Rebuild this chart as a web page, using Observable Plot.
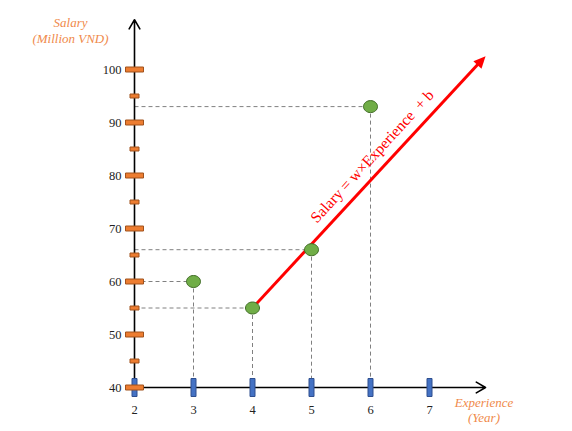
<!DOCTYPE html>
<html>
<head>
<meta charset="utf-8">
<script src="https://cdn.jsdelivr.net/npm/d3@7"></script>
<script src="https://cdn.jsdelivr.net/npm/@observablehq/plot@0.6"></script>
<style>
  html, body { margin: 0; padding: 0; background: #fff; }
</style>
</head>
<body>
<div id="chart"></div>
<script>
// ---- data ----
const years = [2, 3, 4, 5, 6, 7];
const salaryTicks = [40, 45, 50, 55, 60, 65, 70, 75, 80, 85, 90, 95, 100];
const salaryLabels = [40, 50, 60, 70, 80, 90, 100];
const experience = [3, 4, 5, 6];
const salary = [60, 55, 66, 93];
const regX = [4, 7.88];
const regY = [55, 101.7];
const regTipX = [7.95];
const regTipY = [102.5];
const xAxisEnd = 7.95;
const yAxisEnd = 109.4;
const formula = "Salary = w×Experience  + b";

const points = experience.map((x, i) => ({x, y: salary[i]}));

// ---- custom symbols ----
const rectSym = (w, h) => ({draw(c) { c.rect(-w / 2, -h / 2, w, h); }});
function ellipseSym(rx, ry) {
  const k = 0.5523;
  return {draw(c) {
    c.moveTo(rx, 0);
    c.bezierCurveTo(rx, ry * k, rx * k, ry, 0, ry);
    c.bezierCurveTo(-rx * k, ry, -rx, ry * k, -rx, 0);
    c.bezierCurveTo(-rx, -ry * k, -rx * k, -ry, 0, -ry);
    c.bezierCurveTo(rx * k, -ry, rx, -ry * k, rx, 0);
    c.closePath();
  }};
}
function arrowHeadSym(len, half, angleDeg) {
  const a = angleDeg * Math.PI / 180;
  const dx = Math.sin(a), dy = -Math.cos(a);   // direction of tip
  const px = -dy, py = dx;                      // perpendicular
  return {draw(c) {
    c.moveTo(0, 0);
    c.lineTo(-dx * len + px * half, -dy * len + py * half);
    c.lineTo(-dx * len - px * half, -dy * len - py * half);
    c.closePath();
  }};
}

const orange = "#ED7D31", orangeEdge = "#A0521C";
const blue = "#4472C4", blueEdge = "#2F4F8F";
const green = "#70AD47", greenEdge = "#3F6B25";
const titleColor = "#F08A4B";

const chart = Plot.plot({
  width: 572,
  height: 431,
  marginLeft: 134,
  marginRight: 143,
  marginTop: 69,
  marginBottom: 44,
  x: {domain: [2, 7], axis: null},
  y: {domain: [40, 100], axis: null},
  style: {fontFamily: "'Liberation Serif', 'Times New Roman', serif", fontSize: "12px", background: "#fff", overflow: "visible"},
  marks: [
    // dashed guides
    Plot.link(points, {x1: 2, x2: "x", y1: "y", y2: "y", stroke: "#808080", strokeWidth: 1, strokeDasharray: "4,3"}),
    Plot.link(points, {x1: "x", x2: "x", y1: "y", y2: 40, stroke: "#808080", strokeWidth: 1, strokeDasharray: "4,3"}),
    // axes
    Plot.arrow([0], {x1: 2, y1: 40, x2: xAxisEnd, y2: 40, stroke: "#000", strokeWidth: 1.6, headLength: 10, headAngle: 60}),
    Plot.arrow([0], {x1: 2, y1: 40, x2: 2, y2: yAxisEnd, stroke: "#000", strokeWidth: 1.6, headLength: 10, headAngle: 60}),
    // regression line
    Plot.link([0], {x1: regX[0], y1: regY[0], x2: regX[1], y2: regY[1], stroke: "#FF0000", strokeWidth: 3}),
    Plot.dot(regTipX.map((x, i) => ({x, y: regTipY[i]})), {x: "x", y: "y", symbol: arrowHeadSym(12, 5.5, 42.6), fill: "#FF0000", stroke: "none", r: 5}),
    // x ticks (blue)
    Plot.dot(years, {x: d => d, y: 40, symbol: rectSym(5, 18), fill: blue, stroke: blueEdge, strokeWidth: 1, r: 5}),
    // y ticks (orange)
    Plot.dot(salaryTicks, {x: 2, y: d => d, symbol: d => d % 10 === 0 ? "major" : "minor", fill: orange, stroke: orangeEdge, strokeWidth: 1, r: 5}),
    // points
    Plot.dot(points, {x: "x", y: "y", symbol: ellipseSym(7, 6), fill: green, stroke: greenEdge, strokeWidth: 1, r: 6}),
    // tick labels
    Plot.text(salaryLabels, {x: 2, y: d => d, text: d => String(d), textAnchor: "end", dx: -13, fontSize: 12.5, fill: "#222"}),
    Plot.text(years, {x: d => d, y: 40, text: d => String(d), dy: 22, fontSize: 12.5, fill: "#222"}),
    // formula
    Plot.text([formula], {x: 6.03, y: 83.6, text: d => d, rotate: -47.4, fill: "#FF0000", fontSize: 15.5, style: "white-space: pre"}),
    // axis titles
    Plot.text(["Salary\n(Million VND)"], {frameAnchor: "top-left", lineAnchor: "middle", dx: -64, dy: -40, text: d => d, fill: titleColor, fontStyle: "italic", fontSize: 13, lineHeight: 1.25, textAnchor: "middle"}),
    Plot.text(["Experience\n(Year)"], {frameAnchor: "bottom-right", lineAnchor: "middle", dx: 54.5, dy: 22, text: d => d, fill: titleColor, fontStyle: "italic", fontSize: 13, lineHeight: 1.15, textAnchor: "middle"})
  ],
  symbol: {type: "ordinal", domain: ["major", "minor"], range: [rectSym(18, 5), rectSym(9, 4)]}
});

document.getElementById("chart").appendChild(chart);
</script>
</body>
</html>
